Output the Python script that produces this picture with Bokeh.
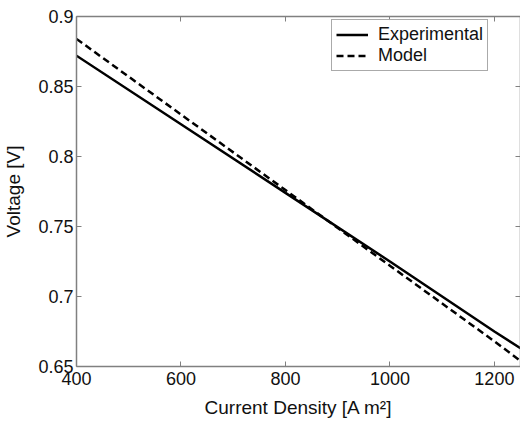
from bokeh.plotting import figure
from bokeh.models import Range1d, LinearAxis, FixedTicker, Legend, LegendItem, CustomJSTickFormatter
from bokeh.embed import file_html
from bokeh.resources import INLINE

current_density = [400, 600, 800, 1000, 1200, 1250]
experimental = [0.872, 0.823, 0.774, 0.725, 0.675, 0.663]
model = [0.884, 0.830, 0.776, 0.722, 0.668, 0.654]
x_ticks = [400, 600, 800, 1000, 1200]
y_ticks = [0.65, 0.7, 0.75, 0.8, 0.85, 0.9]

FONT = "Liberation Sans"
AX = "#808080"

p = figure(width=520, height=420, output_backend="svg", toolbar_location=None,
           x_range=Range1d(400, 1250), y_range=Range1d(0.65, 0.9),
           min_border_left=75, min_border_right=0, min_border_top=16, min_border_bottom=52,
           x_axis_label="Current Density [A m²]", y_axis_label="Voltage [V]")
p.outline_line_color = None
p.grid.visible = False
p.background_fill_color = "white"
p.border_fill_color = "white"

for ax in (p.xaxis[0], p.yaxis[0]):
    ax.axis_line_color = AX
    ax.axis_line_width = 1.5
    ax.major_tick_line_color = AX
    ax.major_tick_in = 5
    ax.major_tick_out = 0
    ax.minor_tick_line_color = None
    ax.major_label_text_font = FONT
    ax.major_label_text_font_size = "18px"
    ax.major_label_text_color = "#111111"
    ax.axis_label_text_font = FONT
    ax.axis_label_text_font_size = "19px"
    ax.axis_label_text_font_style = "normal"
    ax.axis_label_text_color = "#111111"
    ax.major_label_standoff = 3

p.xaxis[0].ticker = FixedTicker(ticks=x_ticks)
p.yaxis[0].ticker = FixedTicker(ticks=y_ticks)
p.xaxis[0].major_label_standoff = 5
p.xaxis[0].axis_label_standoff = 9
p.yaxis[0].axis_label_standoff = 11

blank = CustomJSTickFormatter(code="return '';")
top = LinearAxis(ticker=FixedTicker(ticks=x_ticks), formatter=blank,
                 axis_line_color=AX, axis_line_width=1.5, major_tick_line_color=AX,
                 major_tick_in=5, major_tick_out=0, minor_tick_line_color=None,
                 major_label_standoff=0)
right = LinearAxis(ticker=FixedTicker(ticks=y_ticks), formatter=blank,
                   axis_line_color=AX, axis_line_width=1.5, major_tick_line_color=AX,
                   major_tick_in=5, major_tick_out=0, minor_tick_line_color=None,
                   major_label_standoff=0)
p.add_layout(top, "above")
p.add_layout(right, "right")

r1 = p.line(current_density, experimental, line_color="black", line_width=2.5)
r2 = p.line(current_density, model, line_color="black", line_width=2.5, line_dash="7 4")

legend = Legend(items=[LegendItem(label="Experimental", renderers=[r1]),
                       LegendItem(label="Model", renderers=[r2])],
                location=(255, 295))
legend.label_text_font = FONT
legend.label_text_font_size = "18px"
legend.label_text_color = "#111111"
legend.border_line_color = "#555555"
legend.border_line_width = 1.2
legend.glyph_width = 32
legend.glyph_height = 19
legend.label_height = 19
legend.spacing = 0
legend.padding = 4
legend.margin = 0
legend.label_standoff = 10
p.add_layout(legend)

open("out.html", "w").write(file_html(p, INLINE))
